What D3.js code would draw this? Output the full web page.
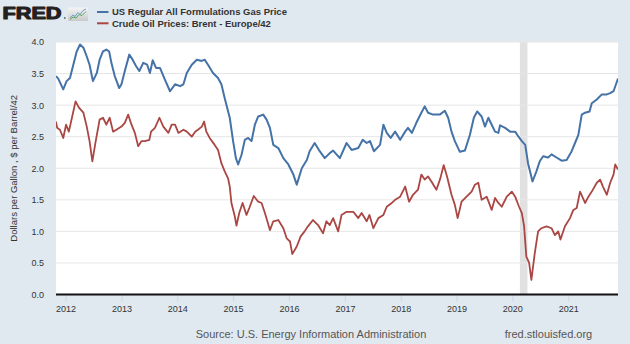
<!DOCTYPE html>
<html>
<head>
<meta charset="utf-8">
<script src="https://cdn.jsdelivr.net/npm/d3@7"></script>
<style>
  body { margin: 0; background: #e1e9f0; }
  svg { display: block; font-family: "Liberation Sans", Arial, sans-serif; }
</style>
</head>
<body>
<svg id="chart" width="630" height="344"></svg>
<script>
const seriesNames = ["US Regular All Formulations Gas Price", "Crude Oil Prices: Brent - Europe/42"];
const seriesColors = ["#4572a7", "#aa4643"];
const yTicks = [0, 0.5, 1, 1.5, 2, 2.5, 3, 3.5, 4];
const tickYears = [2012, 2013, 2014, 2015, 2016, 2017, 2018, 2019, 2020, 2021];
const recession = [2020.135, 2020.27];

// [decimal year, dollars per gallon]
const gasPrice = [
  [2011.83,3.46],[2011.87,3.42],[2011.96,3.25],[2012.02,3.38],[2012.08,3.43],[2012.14,3.64],[2012.20,3.85],
  [2012.26,3.96],[2012.32,3.91],[2012.38,3.77],[2012.43,3.64],[2012.49,3.38],[2012.56,3.51],[2012.61,3.72],
  [2012.67,3.85],[2012.73,3.88],[2012.78,3.85],[2012.82,3.67],[2012.88,3.46],[2012.96,3.27],[2013.00,3.33],
  [2013.06,3.54],[2013.14,3.80],[2013.20,3.72],[2013.26,3.62],[2013.32,3.54],[2013.39,3.67],[2013.46,3.64],
  [2013.51,3.51],[2013.56,3.71],[2013.62,3.59],[2013.69,3.59],[2013.78,3.40],[2013.87,3.22],[2013.96,3.33],
  [2014.05,3.30],[2014.11,3.33],[2014.17,3.51],[2014.26,3.64],[2014.35,3.72],[2014.44,3.70],[2014.49,3.72],
  [2014.55,3.64],[2014.64,3.51],[2014.73,3.43],[2014.79,3.33],[2014.85,3.11],[2014.94,2.80],[2015.00,2.43],
  [2015.05,2.16],[2015.09,2.06],[2015.15,2.21],[2015.21,2.45],[2015.27,2.48],[2015.33,2.43],[2015.39,2.69],
  [2015.45,2.82],[2015.54,2.85],[2015.60,2.77],[2015.66,2.64],[2015.72,2.37],[2015.81,2.32],[2015.90,2.16],
  [2015.99,2.06],[2016.08,1.90],[2016.14,1.74],[2016.23,2.00],[2016.32,2.13],[2016.37,2.27],[2016.46,2.40],
  [2016.55,2.27],[2016.64,2.16],[2016.73,2.24],[2016.79,2.28],[2016.91,2.16],[2017.03,2.40],[2017.12,2.29],
  [2017.24,2.32],[2017.32,2.45],[2017.39,2.40],[2017.45,2.43],[2017.52,2.27],[2017.63,2.37],[2017.69,2.69],
  [2017.75,2.56],[2017.82,2.48],[2017.90,2.58],[2017.99,2.45],[2018.08,2.58],[2018.13,2.64],[2018.20,2.56],
  [2018.28,2.72],[2018.37,2.88],[2018.43,2.98],[2018.49,2.88],[2018.58,2.85],[2018.70,2.85],[2018.79,2.91],
  [2018.85,2.80],[2018.91,2.58],[2018.97,2.43],[2019.06,2.26],[2019.15,2.28],[2019.24,2.53],[2019.31,2.80],
  [2019.37,2.90],[2019.45,2.82],[2019.51,2.66],[2019.57,2.80],[2019.63,2.69],[2019.69,2.58],[2019.75,2.56],
  [2019.78,2.68],[2019.87,2.64],[2019.96,2.58],[2020.05,2.58],[2020.11,2.50],[2020.17,2.43],[2020.23,2.37],
  [2020.28,2.08],[2020.36,1.79],[2020.43,1.95],[2020.49,2.11],[2020.55,2.19],[2020.64,2.17],[2020.70,2.22],
  [2020.79,2.17],[2020.88,2.12],[2020.97,2.13],[2021.06,2.27],[2021.12,2.40],[2021.18,2.53],[2021.24,2.85],
  [2021.30,2.88],[2021.38,2.90],[2021.42,3.03],[2021.51,3.09],[2021.60,3.17],[2021.69,3.17],[2021.75,3.19],
  [2021.81,3.22],[2021.89,3.42]
];

// [decimal year, dollars per barrel / 42]
const brentPrice = [
  [2011.83,2.74],[2011.85,2.64],[2011.90,2.61],[2011.96,2.48],[2012.01,2.69],[2012.06,2.58],[2012.14,2.90],
  [2012.18,3.06],[2012.24,2.96],[2012.32,2.88],[2012.38,2.66],[2012.43,2.43],[2012.48,2.11],[2012.54,2.43],
  [2012.61,2.77],[2012.67,2.80],[2012.73,2.69],[2012.79,2.80],[2012.85,2.58],[2012.91,2.61],[2013.00,2.66],
  [2013.06,2.72],[2013.12,2.85],[2013.18,2.69],[2013.24,2.56],[2013.30,2.35],[2013.36,2.43],[2013.42,2.43],
  [2013.50,2.45],[2013.53,2.58],[2013.60,2.64],[2013.68,2.80],[2013.75,2.66],[2013.84,2.56],[2013.90,2.69],
  [2013.96,2.69],[2014.02,2.56],[2014.11,2.61],[2014.17,2.58],[2014.26,2.50],[2014.32,2.58],[2014.37,2.61],
  [2014.44,2.66],[2014.48,2.74],[2014.52,2.58],[2014.58,2.48],[2014.67,2.37],[2014.73,2.29],[2014.79,2.08],
  [2014.85,1.95],[2014.91,1.84],[2014.94,1.71],[2014.97,1.45],[2015.03,1.24],[2015.06,1.09],[2015.11,1.29],
  [2015.17,1.45],[2015.24,1.26],[2015.29,1.37],[2015.37,1.56],[2015.45,1.47],[2015.51,1.45],[2015.57,1.29],
  [2015.66,1.02],[2015.72,1.16],[2015.81,1.18],[2015.90,1.05],[2015.96,0.89],[2016.02,0.84],[2016.06,0.64],
  [2016.14,0.76],[2016.21,0.92],[2016.28,1.00],[2016.34,1.08],[2016.43,1.18],[2016.52,1.10],[2016.61,0.97],
  [2016.67,1.16],[2016.73,1.10],[2016.79,1.21],[2016.88,1.00],[2016.94,1.26],[2017.03,1.31],[2017.15,1.31],
  [2017.24,1.21],[2017.30,1.29],[2017.39,1.16],[2017.44,1.26],[2017.51,1.05],[2017.60,1.21],[2017.69,1.26],
  [2017.75,1.39],[2017.84,1.45],[2017.90,1.50],[2017.99,1.55],[2018.08,1.71],[2018.15,1.47],[2018.22,1.58],
  [2018.31,1.66],[2018.37,1.90],[2018.43,1.82],[2018.49,1.87],[2018.55,1.79],[2018.64,1.66],[2018.71,1.84],
  [2018.77,2.05],[2018.83,1.87],[2018.91,1.58],[2018.97,1.42],[2019.02,1.21],[2019.09,1.47],[2019.18,1.55],
  [2019.27,1.63],[2019.33,1.74],[2019.39,1.77],[2019.45,1.50],[2019.54,1.55],[2019.63,1.34],[2019.69,1.53],
  [2019.75,1.45],[2019.81,1.39],[2019.90,1.55],[2019.99,1.63],[2020.05,1.55],[2020.12,1.39],[2020.17,1.29],
  [2020.21,1.08],[2020.25,0.60],[2020.30,0.50],[2020.34,0.23],[2020.40,0.65],[2020.46,1.00],[2020.52,1.05],
  [2020.61,1.08],[2020.70,1.05],[2020.76,0.94],[2020.82,1.00],[2020.86,0.87],[2020.94,1.08],[2021.03,1.21],
  [2021.09,1.34],[2021.15,1.37],[2021.21,1.63],[2021.30,1.45],[2021.36,1.55],[2021.42,1.63],[2021.51,1.77],
  [2021.57,1.82],[2021.62,1.71],[2021.69,1.58],[2021.75,1.77],[2021.81,1.90],[2021.84,2.06],[2021.89,1.98]
];

function toDate(y) {
  const yr = Math.floor(y);
  const a = Date.UTC(yr, 0, 1), b = Date.UTC(yr + 1, 0, 1);
  return new Date(a + (y - yr) * (b - a));
}

const margin = { top: 42, right: 12, bottom: 49.5, left: 56 },
  width = 630 - margin.left - margin.right,
  height = 344 - margin.top - margin.bottom;

const svg = d3.select("#chart");

svg.append("rect").attr("width", 630).attr("height", 344).attr("fill", "#e1e9f0");

const x = d3.scaleUtc()
  .domain(d3.extent(gasPrice, d => toDate(d[0])))
  .range([0, width]);
const y = d3.scaleLinear().domain([0, 4]).range([height, 0]);

const g = svg.append("g")
  .attr("transform", "translate(" + margin.left + "," + margin.top + ")");

g.append("defs").append("clipPath").attr("id", "plotClip")
  .append("rect").attr("x", 0).attr("y", -2).attr("width", width).attr("height", height + 4);

g.append("rect").attr("width", width).attr("height", height).attr("fill", "#fff");

// recession shading
g.append("rect")
  .attr("x", x(toDate(recession[0])))
  .attr("width", x(toDate(recession[1])) - x(toDate(recession[0])))
  .attr("y", 0).attr("height", height)
  .attr("fill", "#e1e1e1");

// horizontal grid
g.selectAll(".grid").data(yTicks.filter(d => d > 0)).enter()
  .append("line")
  .attr("class", "grid")
  .attr("x1", 0).attr("x2", width)
  .attr("y1", d => y(d)).attr("y2", d => y(d))
  .attr("stroke", "#e6e6e6").attr("stroke-width", 1);

// y axis labels
const yAxis = g.append("g")
  .call(d3.axisLeft(y).tickValues(yTicks).tickFormat(d3.format(".1f")).tickSize(0).tickPadding(12));
yAxis.select(".domain").remove();
yAxis.selectAll("text").attr("fill", "#333").style("font-size", "9px")
  .style("font-family", "'Liberation Sans', Arial, sans-serif");

// x axis
const xAxis = g.append("g")
  .attr("transform", "translate(0," + (height + 1) + ")")
  .call(d3.axisBottom(x).tickValues(tickYears.map(toDate)).tickFormat(d3.utcFormat("%Y")).tickSize(6).tickPadding(4));
xAxis.select(".domain").remove();
xAxis.selectAll("line").attr("stroke", "#ccd6eb");
xAxis.selectAll("text").attr("fill", "#333").style("font-size", "9px")
  .style("font-family", "'Liberation Sans', Arial, sans-serif");

// lines
const line = d3.line()
  .x(d => x(toDate(d[0])))
  .y(d => y(d[1]));

const lines = g.append("g").attr("clip-path", "url(#plotClip)");
lines.append("path").datum(brentPrice)
  .attr("fill", "none").attr("stroke", seriesColors[1]).attr("stroke-width", 1.8)
  .attr("stroke-linejoin", "round").attr("d", line);
lines.append("path").datum(gasPrice)
  .attr("fill", "none").attr("stroke", seriesColors[0]).attr("stroke-width", 2)
  .attr("stroke-linejoin", "round").attr("d", line);

// bottom axis line
g.append("line")
  .attr("x1", 0).attr("x2", width)
  .attr("y1", height).attr("y2", height)
  .attr("stroke", "#111").attr("stroke-width", 2.2);

// y axis title
svg.append("text")
  .attr("transform", "translate(13," + (margin.top + height / 2) + ") rotate(-90)")
  .attr("text-anchor", "middle")
  .attr("dominant-baseline", "central")
  .style("font-size", "9.5px")
  .attr("fill", "#333")
  .text("Dollars per Gallon , $ per Barrel/42");

// header: logo
svg.append("text")
  .attr("x", 2.5).attr("y", 18.8)
  .attr("textLength", 59).attr("lengthAdjust", "spacingAndGlyphs")
  .style("font-size", "16.5px").style("font-weight", "bold")
  .attr("fill", "#231f20").attr("stroke", "#231f20").attr("stroke-width", 1.1)
  .attr("stroke-linejoin", "round")
  .text("FRED");
svg.append("circle").attr("cx", 64.8).attr("cy", 18).attr("r", 0.9).attr("fill", "#666");

const grad = svg.append("defs").append("linearGradient")
  .attr("id", "iconGrad").attr("x1", "0%").attr("y1", "0%").attr("x2", "0%").attr("y2", "100%");
grad.append("stop").attr("offset", "0%").attr("stop-color", "#f4f4f4");
grad.append("stop").attr("offset", "100%").attr("stop-color", "#c9c9c9");
svg.append("rect").attr("x", 68).attr("y", 7.5).attr("width", 20).attr("height", 13.5)
  .attr("rx", 1).attr("fill", "url(#iconGrad)");
svg.append("polyline")
  .attr("points", "70,18 73,15 75,16.5 78,12.5 80,14.5 83,10.5 86,9")
  .attr("fill", "none").attr("stroke", "#6b9fd6").attr("stroke-width", 1);
svg.append("polyline")
  .attr("points", "70,19.5 73,17 76,18 79,14.5 82,15.5 86,11.5")
  .attr("fill", "none").attr("stroke", "#58a85a").attr("stroke-width", 1);

// legend
const legend = svg.append("g").attr("transform", "translate(97,12)");
seriesNames.forEach((name, i) => {
  legend.append("line")
    .attr("x1", 0).attr("x2", 11.5)
    .attr("y1", i * 11.3).attr("y2", i * 11.3)
    .attr("stroke", seriesColors[i]).attr("stroke-width", 2);
  legend.append("text")
    .attr("x", 15).attr("y", i * 11.3 + 3.4)
    .style("font-size", "9.5px").style("font-weight", "bold")
    .attr("fill", "#333")
    .text(name);
});

// footer
svg.append("text")
  .attr("x", 311).attr("y", 337.5)
  .attr("text-anchor", "middle")
  .style("font-size", "11px").attr("fill", "#555")
  .text("Source: U.S. Energy Information Administration");
svg.append("text")
  .attr("x", 548.5).attr("y", 337.5)
  .attr("text-anchor", "middle")
  .style("font-size", "11px").attr("fill", "#555")
  .text("fred.stlouisfed.org");
</script>
</body>
</html>
